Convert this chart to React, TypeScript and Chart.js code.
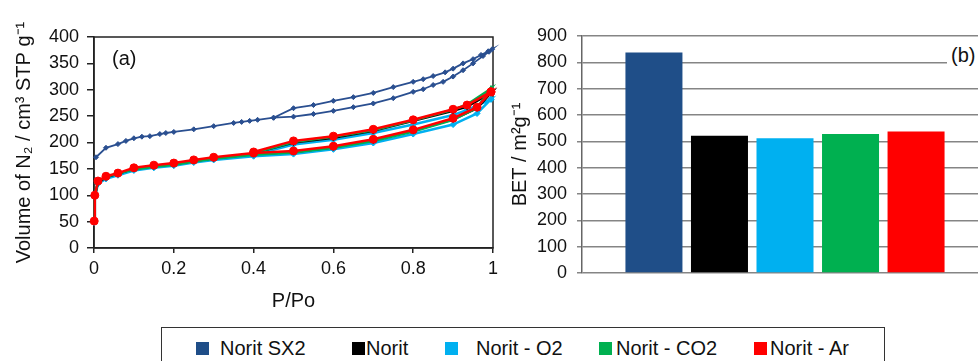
import React, { useEffect, useRef } from 'react';
import { Chart, registerables } from 'chart.js';
Chart.register(...registerables);

const FONT = '"Liberation Sans", Arial, Helvetica, sans-serif';

// ---------- Panel (a): N2 isotherms ----------
const sx2AdsP = [0.005, 0.03, 0.06, 0.08, 0.1, 0.12, 0.14, 0.165, 0.18, 0.2, 0.25, 0.3, 0.35, 0.37, 0.39, 0.41, 0.45, 0.5, 0.55, 0.6, 0.65, 0.7, 0.75, 0.8, 0.825, 0.85, 0.875, 0.9, 0.925, 0.95, 0.975, 0.99];
const sx2AdsV = [172, 190, 197, 203, 208, 211, 212, 216, 218, 220, 225, 231, 237, 239, 241, 243, 247, 249, 254, 260, 267, 274, 284, 296, 301, 309, 315, 325, 337, 350, 364, 372];
const sx2DesP = [0.998, 0.988, 0.97, 0.95, 0.925, 0.9, 0.88, 0.85, 0.825, 0.8, 0.75, 0.7, 0.65, 0.6, 0.55, 0.5, 0.45];
const sx2DesV = [377, 373, 366, 358, 350, 340, 333, 326, 320, 315, 305, 294, 286, 279, 271, 265, 247];

const noritAdsP = [0.0005, 0.002, 0.01, 0.03, 0.06, 0.1, 0.15, 0.2, 0.25, 0.3, 0.4, 0.5, 0.6, 0.7, 0.8, 0.9, 0.96, 0.995];
const noritDesP = [0.995, 0.935, 0.9, 0.8, 0.7, 0.6, 0.5, 0.4];

const noritAdsV = [50, 98, 125, 134, 141, 150, 155, 159, 165, 170, 178, 182, 191, 204, 222, 244, 265, 294];
const noritDesV = [294, 268, 260, 241, 222, 209, 200, 180];
const o2AdsV = [48, 96, 122, 131, 138, 147, 152, 156, 162, 167, 174, 178, 187, 199, 216, 234, 255, 282];
const o2DesV = [282, 262, 252, 234, 218, 205, 196, 176];
const co2AdsV = [50, 99, 126, 135, 141, 149, 154, 158, 164, 169, 177, 181, 190, 203, 221, 243, 266, 302];
const co2DesV = [302, 272, 262, 242, 223, 211, 201, 180];
const arAdsV = [51, 100, 127, 136, 142, 152, 157, 161, 167, 172, 180, 184, 193, 206, 224, 246, 267, 296];
const arDesV = [296, 271, 263, 243, 225, 212, 203, 182];

const xTicksA = [0, 0.2, 0.4, 0.6, 0.8, 1];
const yTicksA = [0, 50, 100, 150, 200, 250, 300, 350, 400];

// ---------- Panel (b): BET surface area ----------
const sampleNames = ['Norit SX2', 'Norit', 'Norit - O2', 'Norit - CO2', 'Norit - Ar'];
const betValues = [837, 521, 512, 528, 537];
const yTicksB = [0, 100, 200, 300, 400, 500, 600, 700, 800, 900];

const sampleColors = ['#1F4E88', '#000000', '#00B0F0', '#00B050', '#FF0000'];

function pts(p: number[], v: number[]) {
  return p.map((x, i) => ({ x, y: v[i] }));
}

const boxPlugin = {
  id: 'boxA',
  beforeDatasetsDraw(chart: any) {
    const { ctx, chartArea: a } = chart;
    ctx.save();
    ctx.strokeStyle = '#222';
    ctx.lineWidth = 1.5;
    ctx.strokeRect(a.left, a.top, a.right - a.left, a.bottom - a.top);
    ctx.restore();
  },
};

function IsothermChart() {
  const ref = useRef<HTMLCanvasElement>(null);
  useEffect(() => {
    const mk = (label: string, color: string, ads: any[], des: any[], style: string, r: number, w: number, order: number) => ({
      label,
      data: [...ads, ...des],
      showLine: true,
      borderColor: color,
      backgroundColor: color,
      pointBackgroundColor: color,
      pointBorderColor: color,
      pointStyle: style,
      pointRadius: r,
      pointBorderWidth: 1,
      borderWidth: w,
      tension: 0,
      clip: false,
      order,
    });
    const chart = new Chart(ref.current!, {
      type: 'scatter',
      data: {
        datasets: [
          mk(sampleNames[0], '#2A4F90', pts(sx2AdsP, sx2AdsV), pts(sx2DesP, sx2DesV), 'rectRot', 2.5, 1.8, 4),
          mk(sampleNames[2], sampleColors[2], pts(noritAdsP, o2AdsV), pts(noritDesP, o2DesV), 'rectRot', 3, 2.5, 3),
          mk(sampleNames[1], sampleColors[1], pts(noritAdsP, noritAdsV), pts(noritDesP, noritDesV), 'rectRot', 3, 2.5, 2),
          mk(sampleNames[3], sampleColors[3], pts(noritAdsP, co2AdsV), pts(noritDesP, co2DesV), 'triangle', 3, 2.5, 1),
          mk(sampleNames[4], sampleColors[4], pts(noritAdsP, arAdsV), pts(noritDesP, arDesV), 'circle', 4, 2.5, 0),
        ] as any,
      },
      options: {
        animation: false,
        responsive: false,
        devicePixelRatio: 1,
        layout: { padding: { top: 37, right: 12, left: 0, bottom: 0 } },
        plugins: { legend: { display: false }, tooltip: { enabled: false } },
        scales: {
          x: {
            type: 'linear',
            min: 0,
            max: 1,
            afterBuildTicks: (s: any) => { s.ticks = xTicksA.map((v) => ({ value: v })); },
            afterFit: (s: any) => { s.height = 72; },
            ticks: { font: { family: FONT, size: 18 }, color: '#111', padding: 5, callback: (v: any) => String(v) },
            grid: { drawOnChartArea: false, drawTicks: true, tickLength: 5, color: '#222', lineWidth: 1.5 },
            border: { display: true, color: '#222', width: 1.5 },
            title: { display: true, text: 'P/Po', font: { family: FONT, size: 20 }, color: '#111', padding: { top: 0, bottom: 7 } },
          },
          y: {
            type: 'linear',
            min: 0,
            max: 400,
            afterBuildTicks: (s: any) => { s.ticks = yTicksA.map((v) => ({ value: v })); },
            afterFit: (s: any) => { s.width = 94; },
            ticks: { font: { family: FONT, size: 18 }, color: '#111', padding: 8, callback: (v: any) => String(v) },
            grid: { drawOnChartArea: false, drawTicks: true, tickLength: 7, color: '#222', lineWidth: 1.5 },
            border: { display: true, color: '#222', width: 1.5 },
            title: { display: true, text: 'Volume of N₂ / cm³ STP g⁻¹', font: { family: FONT, size: 20 }, color: '#111', padding: { top: 12, bottom: 0 } },
          },
        },
      },
      plugins: [boxPlugin],
    });
    return () => chart.destroy();
  }, []);
  return <canvas ref={ref} width={505} height={320} style={{ position: 'absolute', left: 0, top: 0, width: 505, height: 320 }} />;
}

function BetChart() {
  const ref = useRef<HTMLCanvasElement>(null);
  useEffect(() => {
    const chart = new Chart(ref.current!, {
      type: 'bar',
      data: {
        labels: [''],
        datasets: sampleNames.map((name, i) => ({
          label: name,
          data: [betValues[i]],
          backgroundColor: sampleColors[i],
          borderWidth: 0,
          categoryPercentage: 0.807,
          barPercentage: 0.87,
        })),
      },
      options: {
        animation: false,
        responsive: false,
        devicePixelRatio: 1,
        layout: { padding: { top: 36, right: 2, left: 0, bottom: 0 } },
        plugins: { legend: { display: false }, tooltip: { enabled: false } },
        scales: {
          x: {
            display: true,
            ticks: { display: false },
            grid: { display: false },
            border: { display: false },
            afterFit: (s: any) => { s.height = 24; },
          },
          y: {
            min: 0,
            max: 900,
            afterBuildTicks: (s: any) => { s.ticks = yTicksB.map((v) => ({ value: v })); },
            afterFit: (s: any) => { s.width = 82; },
            ticks: { font: { family: FONT, size: 18 }, color: '#111', padding: 10, callback: (v: any) => String(v) },
            grid: { color: '#858585', lineWidth: 1.5, drawTicks: true, tickLength: 5 },
            border: { display: true, color: '#666', width: 1.5 },
            title: { display: true, text: 'BET / m²g⁻¹', font: { family: FONT, size: 20 }, color: '#111', padding: { top: 8, bottom: 0 } },
          },
        },
      },
    });
    return () => chart.destroy();
  }, []);
  return <canvas ref={ref} width={490} height={297} style={{ position: 'absolute', left: 500, top: 0, width: 490, height: 297 }} />;
}

const legendSquareX = [196, 352, 445, 599, 754];
const legendTextX = [220, 366, 476, 616, 770];

export default function App() {
  const textStyle: React.CSSProperties = { position: 'absolute', fontFamily: FONT, fontSize: 20, color: '#111', lineHeight: '24px', whiteSpace: 'nowrap' };
  return (
    <div style={{ position: 'fixed', left: 0, top: 0, width: 978, height: 361, overflow: 'hidden', background: '#fff' }}>
      <IsothermChart />
      <BetChart />
      <div style={{ ...textStyle, left: 112, top: 46 }}>(a)</div>
      <div style={{ ...textStyle, left: 947, top: 43, width: 31, paddingLeft: 4, background: '#fff' }}>(b)</div>
      <div style={{ position: 'absolute', left: 161, top: 327, width: 724, height: 60, border: '1.5px solid #333', boxSizing: 'border-box' }} />
      {sampleNames.map((name, i) => (
        <React.Fragment key={name}>
          <div style={{ position: 'absolute', left: legendSquareX[i], top: 342, width: 13, height: 13, background: sampleColors[i] }} />
          <div style={{ ...textStyle, left: legendTextX[i], top: 336 }}>{name}</div>
        </React.Fragment>
      ))}
    </div>
  );
}
